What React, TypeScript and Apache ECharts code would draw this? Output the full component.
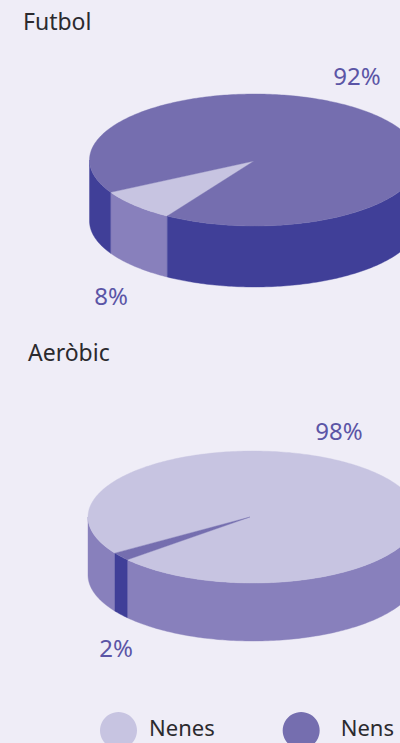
import React, { useEffect, useRef } from "react";
import * as echarts from "echarts";

// Share of girls and boys in each sport, in percent.
const sports = ["Futbol", "Aeròbic"];
const nenes = [8, 98];
const nens = [92, 2];

const FONT = '"Noto Sans", "Open Sans", sans-serif';
const BACKGROUND = "#EFEDF7";
const TITLE_COLOR = "#2B2A2E";
const PERCENT_COLOR = "#5B55A6";
const TOP_COLORS: Record<string, string> = { Nenes: "#C7C4E1", Nens: "#756EAF" };
const WALL_COLORS: Record<string, string> = { Nenes: "#8880BC", Nens: "#403F98" };

// Screen layout of each disc: centre, radii, wall height, apex of the slices and where the first slice begins.
const discs = [
  { cx: 254.5, cy: 160, rx: 165, ry: 66, depth: 61, apexX: 254, apexY: 161, startDeg: 121.9, titleLeft: 23, titleTop: 9 },
  { cx: 253, cy: 517, rx: 165, ry: 66, depth: 58, apexX: 250, apexY: 517, startDeg: 146.8, titleLeft: 28, titleTop: 340 },
];
const labelSpots: Record<string, { x: number; y: number }[]> = {
  Nenes: [{ x: 111, y: 295 }, { x: 339, y: 430 }],
  Nens: [{ x: 357, y: 75 }, { x: 116, y: 647 }],
};

const toRad = (deg: number) => (deg * Math.PI) / 180;

function rimPoint(d: (typeof discs)[number], deg: number, drop = 0): number[] {
  return [d.cx + d.rx * Math.cos(toRad(deg)), d.cy + d.ry * Math.sin(toRad(deg)) + drop];
}

function arcPoints(d: (typeof discs)[number], from: number, to: number, drop = 0): number[][] {
  const pts: number[][] = [];
  const steps = Math.max(2, Math.ceil(Math.abs(to - from)));
  for (let i = 0; i <= steps; i++) pts.push(rimPoint(d, from + ((to - from) * i) / steps, drop));
  return pts;
}

// Angles grow clockwise on screen; only 0..180 degrees of the rim faces the viewer.
function visibleSpans(from: number, to: number): number[][] {
  const spans: number[][] = [];
  for (const [a, b] of [[0, 180], [360, 540]]) {
    const lo = Math.max(from, a);
    const hi = Math.min(to, b);
    if (hi > lo) spans.push([lo, hi]);
  }
  return spans;
}

function sliceRenderer(name: string, earlier: number[]) {
  return (params: any, api: any) => {
    const i = params.dataIndex;
    const d = discs[i];
    const value = api.value(0);
    const from = d.startDeg + (earlier[i] / 100) * 360;
    const to = from + (value / 100) * 360;
    const top = TOP_COLORS[name];
    const wall = WALL_COLORS[name];
    const children: any[] = visibleSpans(from, to).map(([lo, hi]) => ({
      type: "polygon",
      shape: { points: [...arcPoints(d, lo, hi), ...arcPoints(d, hi, lo, d.depth)] },
      style: { fill: wall, stroke: wall, lineWidth: 0.4 },
    }));
    children.push({
      type: "polygon",
      shape: { points: [[d.apexX, d.apexY], ...arcPoints(d, from, to)] },
      style: { fill: top, stroke: top, lineWidth: 0.4 },
    });
    const spot = labelSpots[name][i];
    children.push({
      type: "text",
      x: spot.x,
      y: spot.y,
      style: {
        text: `${value}%`,
        fill: PERCENT_COLOR,
        font: `24px ${FONT}`,
        align: "center",
        verticalAlign: "middle",
      },
    });
    return { type: "group", children };
  };
}

export default function App() {
  const ref = useRef<HTMLDivElement>(null);

  useEffect(() => {
    document.body.style.margin = "0";
    const chart = echarts.init(ref.current!, undefined, { renderer: "svg" });
    chart.setOption({
      animation: false,
      backgroundColor: BACKGROUND,
      title: sports.map((text, i) => ({
        text,
        left: discs[i].titleLeft,
        top: discs[i].titleTop,
        padding: 0,
        textStyle: { color: TITLE_COLOR, fontFamily: FONT, fontSize: 23, fontWeight: "normal" },
      })),
      legend: {
        left: 100,
        top: 712,
        icon: "circle",
        itemWidth: 37,
        itemHeight: 37,
        itemGap: 68,
        padding: 0,
        selectedMode: false,
        data: ["Nenes", "Nens"],
        formatter: (name: string) => `{${name}|${name}}`,
        textStyle: {
          rich: {
            Nenes: { color: TITLE_COLOR, fontFamily: FONT, fontSize: 22, padding: [0, 0, 8, 7] },
            Nens: { color: TITLE_COLOR, fontFamily: FONT, fontSize: 22, padding: [0, 0, 8, 16] },
          },
        },
      },
      series: [
        {
          type: "custom",
          name: "Nenes",
          coordinateSystem: "none",
          silent: true,
          itemStyle: { color: TOP_COLORS.Nenes },
          data: nenes,
          renderItem: sliceRenderer("Nenes", [0, 0]),
        },
        {
          type: "custom",
          name: "Nens",
          coordinateSystem: "none",
          silent: true,
          itemStyle: { color: TOP_COLORS.Nens },
          data: nens,
          renderItem: sliceRenderer("Nens", nenes),
        },
      ],
    });
    return () => chart.dispose();
  }, []);

  return <div ref={ref} style={{ width: 400, height: 743, display: "block", overflow: "hidden" }} />;
}
